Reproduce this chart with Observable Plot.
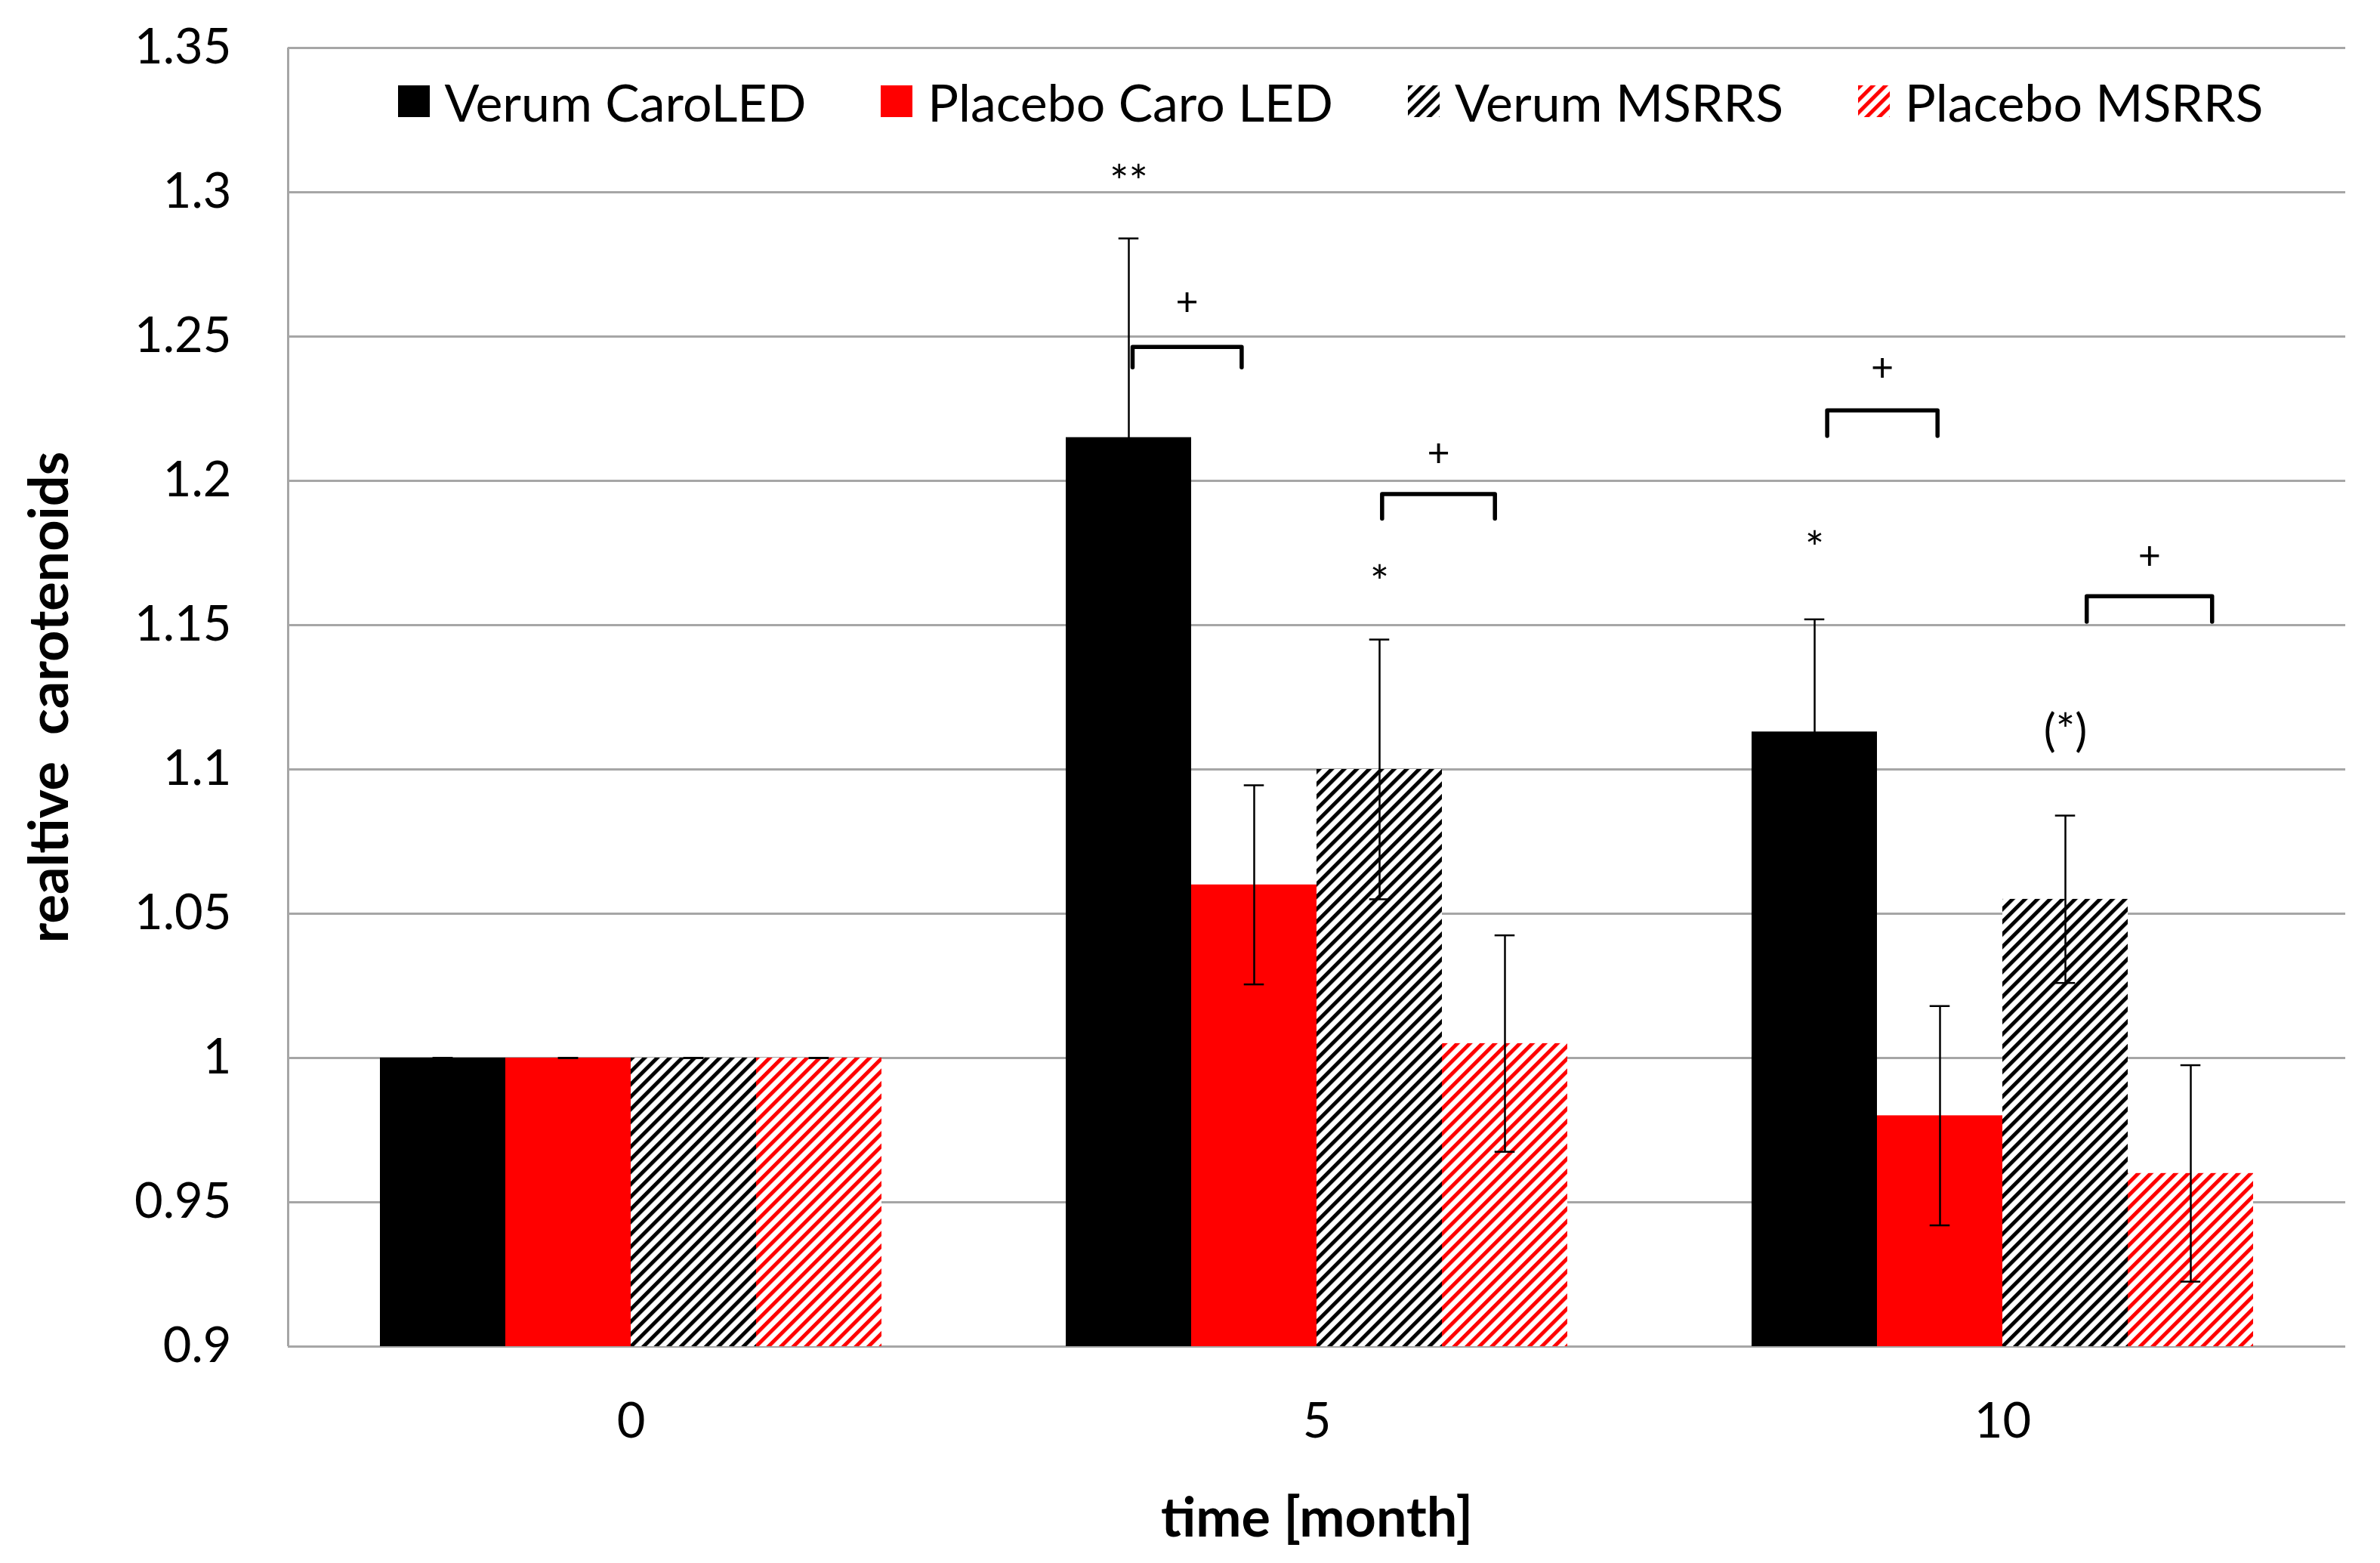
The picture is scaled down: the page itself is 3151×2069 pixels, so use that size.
<!DOCTYPE html>
<html>
<head>
<meta charset="utf-8">
<script src="https://cdn.jsdelivr.net/npm/d3@7"></script>
<script src="https://cdn.jsdelivr.net/npm/@observablehq/plot@0.6"></script>
<style>
html, body { margin: 0; padding: 0; background: #fff; }
#wrap { position: relative; width: 3151px; height: 2069px; overflow: hidden; font-family: Lato, "Open Sans", sans-serif; }
#legend { position: absolute; left: 400px; width: 2723px; top: 104px; height: 60px; display: flex; justify-content: center; align-items: center; gap: 99px; font-size: 68px; color: #000; }
#legend .item { display: flex; align-items: center; gap: 20px; white-space: nowrap; }
#legend svg { width: 42px; height: 42px; display: block; }
g[aria-label="y-axis label"], g[aria-label="fx-axis label"] { font-size: 72px; font-weight: bold; white-space: pre; }
</style>
</head>
<body>
<svg width="0" height="0" style="position:absolute">
  <defs>
    <pattern id="hatchBlack" patternUnits="userSpaceOnUse" width="11.7" height="11.7" patternTransform="rotate(45)">
      <rect width="11.7" height="11.7" fill="#ffffff"></rect>
      <rect width="5" height="11.7" fill="#000000"></rect>
    </pattern>
    <pattern id="hatchRed" patternUnits="userSpaceOnUse" width="11.7" height="11.7" patternTransform="rotate(45)">
      <rect width="11.7" height="11.7" fill="#ffffff"></rect>
      <rect width="5" height="11.7" fill="#ff0000"></rect>
    </pattern>
  </defs>
</svg>
<div id="wrap">
  <div id="chart"></div>
  <div id="legend"></div>
</div>
<script>
// ---- data ----
const months = ["0", "5", "10"];
const series = ["Verum CaroLED", "Placebo Caro LED", "Verum MSRRS", "Placebo MSRRS"];
const seriesFill = ["#000000", "#ff0000", "url(#hatchBlack)", "url(#hatchRed)"];

const values0 = [1.000, 1.000, 1.000, 1.000];
const errors0 = [0.000, 0.000, 0.000, 0.000];
const values5 = [1.215, 1.060, 1.100, 1.005];
const errors5 = [0.069, 0.0345, 0.045, 0.0375];
const values10 = [1.113, 0.980, 1.055, 0.960];
const errors10 = [0.039, 0.038, 0.029, 0.0375];

const yTicks = [0.9, 0.95, 1, 1.05, 1.1, 1.15, 1.2, 1.25, 1.3, 1.35];
const yTickLabels = ["0.9", "0.95", "1", "1.05", "1.1", "1.15", "1.2", "1.25", "1.3", "1.35"];

// significance marks above single bars
const starMonths = ["5", "5", "10", "10"];
const starSeries = ["Verum CaroLED", "Verum MSRRS", "Verum CaroLED", "Verum MSRRS"];
const starY = [1.3056, 1.1669, 1.1788, 1.1155];
const starText = ["**", "*", "*", "(*)"];

// brackets between bars (extent in bar-index units), with "+" above
const bracketMonths = ["5", "5", "10", "10"];
const bracketFrom = [0.03, 2.02, 0.10, 2.17];
const bracketTo = [0.90, 2.92, 0.98, 3.17];
const bracketTop = [1.2464, 1.1954, 1.2244, 1.1600];
const bracketLeg = [1.2393, 1.1869, 1.2156, 1.1512];
const plusY = [1.2616, 1.2092, 1.2389, 1.1736];

// ---- tables built from the arrays ----
const valuesBy = {"0": values0, "5": values5, "10": values10};
const errorsBy = {"0": errors0, "5": errors5, "10": errors10};
const rows = months.flatMap(m => series.map((s, i) => ({month: m, series: s, i, value: valuesBy[m][i], err: errorsBy[m][i]})));
const caps = rows.flatMap(d => [{...d, y: d.value - d.err}, {...d, y: d.value + d.err}]);
const stars = starText.map((t, k) => ({month: starMonths[k], i: series.indexOf(starSeries[k]), y: starY[k], text: t}));
const brackets = bracketMonths.map((m, k) => ({id: k, month: m, from: bracketFrom[k], to: bracketTo[k], top: bracketTop[k], leg: bracketLeg[k], plus: plusY[k]}));
const bracketPts = brackets.flatMap(b => [
  {id: b.id, month: b.month, x: b.from, y: b.leg},
  {id: b.id, month: b.month, x: b.from, y: b.top},
  {id: b.id, month: b.month, x: b.to, y: b.top},
  {id: b.id, month: b.month, x: b.to, y: b.leg}
]);

const gridColor = "#a6a6a6";
const outerPad = 0.735;
const xDomain = [-0.5 - outerPad, series.length - 0.5 + outerPad];
const capHalf = 0.08;

const chart = Plot.plot({
  width: 3151,
  height: 2069,
  marginLeft: 381,
  marginRight: 46,
  marginTop: 63,
  marginBottom: 287,
  style: {fontFamily: "Lato, 'Open Sans', sans-serif", fontSize: "65px", color: "#000", background: "#fff"},
  fx: {domain: months, padding: 0, axis: "bottom", tickSize: 0, tickPadding: 74, label: "time [month]", labelAnchor: "center", labelOffset: 251, labelArrow: "none"},
  x: {domain: xDomain, axis: null},
  y: {domain: [0.9, 1.35], ticks: yTicks, tickFormat: d => yTickLabels[yTicks.indexOf(d)], tickSize: 0, tickPadding: 75, label: "realtive  carotenoids", labelAnchor: "center", labelOffset: 343, labelArrow: "none"},
  color: {domain: series, range: seriesFill},
  marks: [
    Plot.gridY(yTicks, {stroke: gridColor, strokeOpacity: 1, strokeWidth: 3}),
    Plot.ruleX([months[0]], {fx: d => d, x: () => xDomain[0], y1: 0.9, y2: 1.35, stroke: gridColor, strokeWidth: 3}),
    Plot.rectY(rows, {fx: "month", x1: d => d.i - 0.5, x2: d => d.i + 0.5, y1: 0.9, y2: "value", fill: "series"}),
    Plot.ruleX(rows, {fx: "month", x: "i", y1: d => d.value - d.err, y2: d => d.value + d.err, stroke: "#000", strokeWidth: 2.5}),
    Plot.ruleY(caps, {fx: "month", x1: d => d.i - capHalf, x2: d => d.i + capHalf, y: "y", stroke: "#000", strokeWidth: 2.5}),
    Plot.line(bracketPts, {fx: "month", x: "x", y: "y", z: "id", stroke: "#000", strokeWidth: 5.5, strokeLinejoin: "round"}),
    Plot.text(brackets, {fx: "month", x: d => (d.from + d.to) / 2, y: "plus", text: () => "+", fontSize: 52, fill: "#000"}),
    Plot.text(stars, {fx: "month", x: "i", y: "y", text: "text", fontSize: 60, dy: 10, fill: "#000"})
  ]
});
document.getElementById("chart").appendChild(chart);

// legend (drawn inside the plot area, as in the reference)
const legend = document.getElementById("legend");
series.forEach((s, i) => {
  const item = document.createElement("div");
  item.className = "item";
  item.innerHTML = `<svg viewBox="0 0 42 42"><rect width="42" height="42" fill="${seriesFill[i]}"></rect></svg><span>${s}</span>`;
  legend.appendChild(item);
});
</script>
</body>
</html>
